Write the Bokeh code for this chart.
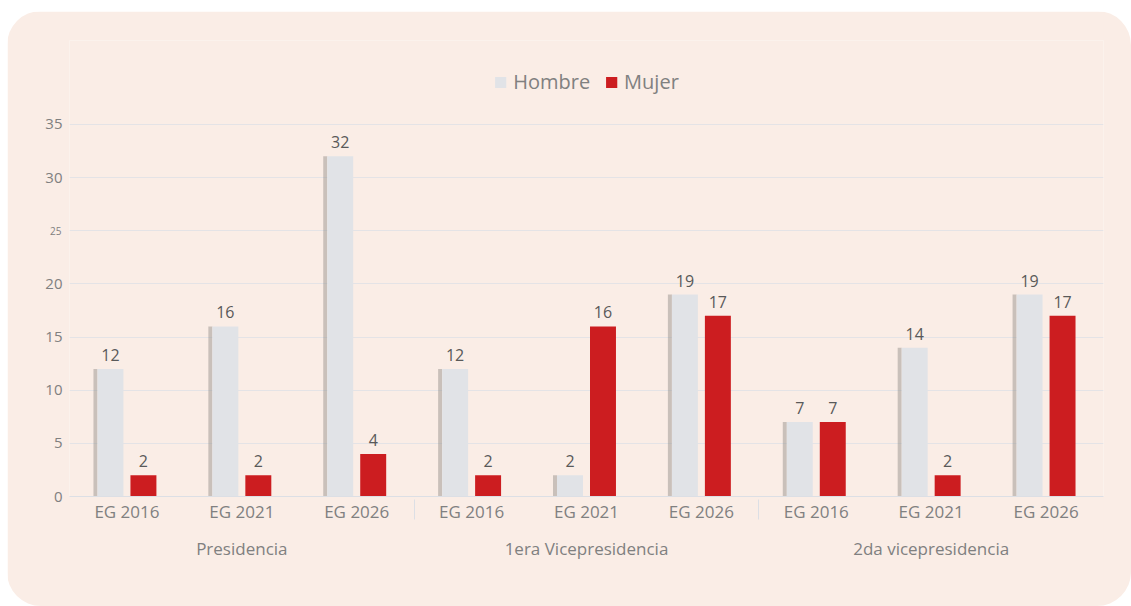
from bokeh.plotting import figure
from bokeh.models import (ColumnDataSource, FactorRange, Range1d, FixedTicker, LabelSet,
                          Legend, LegendItem, LinearAxis, CategoricalAxis)
from bokeh.transform import dodge
from bokeh.core.properties import value
from bokeh.embed import file_html
from bokeh.resources import INLINE

groups = ["Presidencia", "1era Vicepresidencia", "2da vicepresidencia"]
years = ["EG 2016", "EG 2021", "EG 2026"]
hombre = [12, 16, 32, 12, 2, 19, 7, 14, 19]
mujer = [2, 2, 4, 2, 16, 17, 7, 2, 17]
y_ticks = [0, 5, 10, 15, 20, 30, 35]
y_ticks_small = [25]

FONT = "Open Sans"
PEACH = "#FAEDE6"
GREY_TXT = "#808080"
SEP = "#DCDFE5"

factors = [(g, y) for g in groups for y in years]
src = ColumnDataSource(dict(x=factors, hombre=hombre, mujer=mujer,
                            hl=[str(v) for v in hombre], ml=[str(v) for v in mujer]))

# frame spans from the legend row down to 0; gridlines stop at 35
xr = FactorRange(*factors, range_padding=0, group_padding=0, factor_padding=0)
p = figure(x_range=xr, y_range=Range1d(0, 42.9), width=1124, height=595,
           output_backend="svg", toolbar_location=None,
           min_border_left=62, min_border_right=28, min_border_top=29, min_border_bottom=110)
p.styles = {"border-radius": "34px", "overflow": "hidden",
            "margin-top": "11px", "margin-left": "7px"}
p.background_fill_color = PEACH
p.border_fill_color = PEACH
p.outline_line_color = None

# shadow on the left of the grey bars
p.vbar(x=dodge("x", -0.274, range=xr), top="hombre", width=0.035, source=src,
       fill_color="#8f8a86", fill_alpha=0.45, line_color=None)
rh = p.vbar(x=dodge("x", -0.1435, range=xr), top="hombre", width=0.226, source=src,
            fill_color="#E1E3E7", line_color=None)
rm = p.vbar(x=dodge("x", 0.1435, range=xr), top="mujer", width=0.226, source=src,
            fill_color="#CC1D20", line_color=None)

for col, lab, off in (("hombre", "hl", -0.1435), ("mujer", "ml", 0.1435)):
    p.add_layout(LabelSet(x=dodge("x", off, range=xr), y=col, text=lab, source=src,
                          y_offset=8, text_align="center", text_baseline="bottom",
                          text_font=value(FONT), text_font_size="16px", text_color="#595959"))

# y axis
ya = p.yaxis[0]
ya.ticker = FixedTicker(ticks=y_ticks)
ya.axis_line_color = None
ya.major_tick_line_color = None
ya.minor_tick_line_color = None
ya.major_tick_out = 0
ya.major_label_text_font = FONT
ya.major_label_text_font_size = "15px"
ya.major_label_text_color = GREY_TXT
ya.major_label_standoff = 7

small = LinearAxis(ticker=FixedTicker(ticks=y_ticks_small), axis_line_color=None,
                   major_tick_line_color=None, minor_tick_line_color=None,
                   major_tick_out=0, major_tick_in=0,
                   major_label_text_font=FONT, major_label_text_font_size="10px",
                   major_label_text_color=GREY_TXT, major_label_standoff=-19)
p.add_layout(small, "left")

p.ygrid.ticker = FixedTicker(ticks=y_ticks + y_ticks_small)
p.ygrid.grid_line_color = "#E4E3E6"
p.xgrid.grid_line_color = None

# x axis (years + separators); group names drawn by a second axis below
xa = p.xaxis[0]
xa.axis_line_color = SEP
xa.major_tick_line_color = None
xa.minor_tick_line_color = None
xa.major_tick_out = 0
xa.major_label_text_font = FONT
xa.major_label_text_font_size = "17px"
xa.major_label_text_color = GREY_TXT
xa.major_label_standoff = 3
xa.group_text_font = FONT
xa.group_text_font_size = "17px"
xa.group_text_font_style = "normal"
xa.group_text_alpha = 0
xa.separator_line_color = SEP
xa.separator_line_width = 1

p.extra_x_ranges = {"grp": FactorRange(factors=groups, range_padding=0)}
gax = CategoricalAxis(x_range_name="grp", axis_line_color=None,
                      major_tick_line_color=None, minor_tick_line_color=None,
                      major_tick_out=0, major_tick_in=0, major_label_standoff=11,
                      major_label_text_font=FONT, major_label_text_font_size="17px",
                      major_label_text_color=GREY_TXT)
p.add_layout(gax, "below")

legend = Legend(items=[LegendItem(label="Hombre", renderers=[rh]),
                       LegendItem(label="Mujer", renderers=[rm])],
                location="top_center", orientation="horizontal",
                label_text_font=FONT, label_text_font_size="20px", label_text_color=GREY_TXT,
                glyph_width=14, glyph_height=14, label_standoff=6, spacing=14,
                padding=2, margin=28, border_line_color=None, background_fill_alpha=0)
p.add_layout(legend, "center")

open("out.html", "w").write(file_html(p, INLINE))
